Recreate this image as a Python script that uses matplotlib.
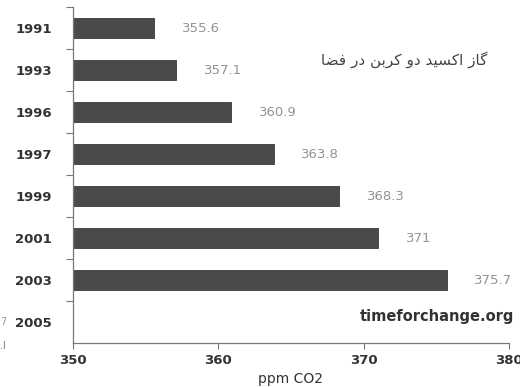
import matplotlib
matplotlib.use("Agg")
import matplotlib.pyplot as plt
import numpy as np

years = ["1991", "1993", "1996", "1997", "1999", "2001", "2003", "2005"]
values = [355.6, 357.1, 360.9, 363.8, 368.3, 371.0, 375.7, np.nan]
value_labels = ["355.6", "357.1", "360.9", "363.8", "368.3", "371", "375.7", ""]
x_ticks = [350, 360, 370, 380]
x_label = "ppm CO2"
# Persian title "گاز اکسید دو کربن در فضا" written with presentation forms in visual order
title_fa = ("\uFE8E\uFEC0\uFED3 \uFEAD\uFEA9 \uFEE6\uFE91\uFEAE\uFB90 "
            "\uFEED\uFEA9 \uFEAA\uFBFF\uFEB4\uFB90\uFE8D \uFEAF\uFE8E\uFB94")
source = "timeforchange.org"
base = 350

fig = plt.figure(figsize=(5.2, 3.87), dpi=100)
ax = fig.add_axes([73/520, 1 - 343/387, (509-73)/520, (343-7)/387])

pos = np.arange(len(years))
widths = [v - base if not np.isnan(v) else 0 for v in values]
ax.barh(pos, widths, left=base, height=0.46, color="#4a4a4a",
        edgecolor="#3a3a3a", linewidth=0.6)

for p, v, lab in zip(pos, values, value_labels):
    if lab:
        ax.text(v + 1.9, p, lab, va="center", ha="left", fontsize=9.5,
                color="#939393")

ax.set_xlim(350, 380)
ax.set_ylim(len(years) - 0.5, -0.5)
ax.set_xticks(x_ticks)
ax.set_xticklabels([str(t) for t in x_ticks], fontsize=9.5, fontweight="bold",
                   color="#333333")
ax.set_yticks(np.arange(-0.5, len(years) - 0.5, 1.0))
ax.set_yticklabels([])
ax.set_yticks(pos, minor=True)
ax.set_yticklabels(years, minor=True, fontsize=9.5, fontweight="bold",
                   color="#333333")
ax.tick_params(axis="y", which="minor", length=0, pad=15)
ax.tick_params(axis="y", which="major", length=5, color="#777777", width=0.8)
ax.tick_params(axis="x", length=4, color="#777777", width=0.8, pad=4)

for s in ["top", "right"]:
    ax.spines[s].set_visible(False)
for s in ["left", "bottom"]:
    ax.spines[s].set_color("#777777")
    ax.spines[s].set_linewidth(0.9)

ax.set_xlabel(x_label, fontsize=10, color="#333333")
ax.xaxis.set_label_coords((290 - 73) / 436, -0.085)

fig.text(404/520, 1 - 60/387, title_fa, fontsize=11, color="#444444",
         ha="center", va="center", family="DejaVu Sans")
fig.text(514/520, 1 - 316/387, source, fontsize=10.5, fontweight="bold",
         color="#333333", ha="right", va="center")

fig.text(0.0, 1 - 322/387, "7", fontsize=7, color="#999999", va="center")
fig.text(0.0, 1 - 346/387, ".l", fontsize=7, color="#777777", va="center")

fig.savefig("out.png", dpi=100, facecolor="white")
